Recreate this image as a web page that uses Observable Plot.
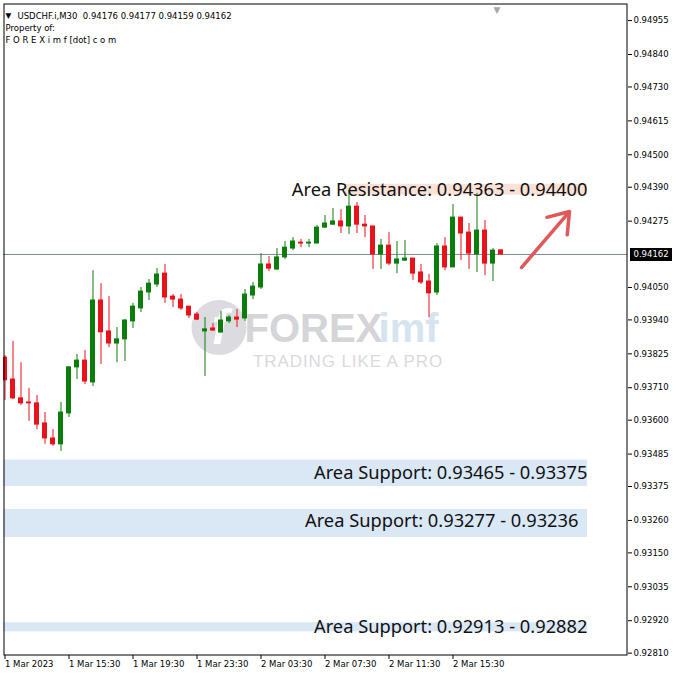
<!DOCTYPE html>
<html><head><meta charset="utf-8">
<script src="https://cdn.jsdelivr.net/npm/d3@7"></script>
<script src="https://cdn.jsdelivr.net/npm/@observablehq/plot@0.6"></script>
<style>body{margin:0;background:#fff} svg{display:block}</style>
</head><body><div id="chart"></div>
<script>
// ---- data (USDCHF.i M30, 1 Mar 2023 11:30 → 2 Mar 2023 18:30) ----
const open = [0.93812,0.93738,0.93674,0.93660,0.93657,0.93589,0.93538,0.93518,0.93623,0.93779,
0.93802,0.93728,0.94006,0.93901,0.93860,0.93874,0.93935,0.93979,0.94033,0.94060,
0.94097,0.94019,0.94009,0.93985,0.93958,0.93901,0.93911,0.93897,0.93935,0.93948,
0.93945,0.94023,0.94050,0.94128,0.94111,0.94152,0.94182,0.94202,0.94199,0.94199,
0.94253,0.94263,0.94274,0.94257,0.94324,0.94263,0.94257,0.94162,0.94192,0.94131,
0.94141,0.94148,0.94101,0.94070,0.94033,0.94189,0.94118,0.94287,0.94236,0.94162,
0.94243,0.94131,0.94176];
const high = [0.93819,0.93867,0.93795,0.93708,0.93684,0.93626,0.93568,0.93660,0.93782,0.93823,
0.93836,0.94107,0.94063,0.94019,0.93914,0.93941,0.93996,0.94050,0.94077,0.94114,
0.94128,0.94026,0.94026,0.93985,0.93965,0.93948,0.93928,0.93969,0.93955,0.93975,
0.94043,0.94067,0.94165,0.94155,0.94182,0.94206,0.94219,0.94213,0.94213,0.94260,
0.94294,0.94318,0.94314,0.94379,0.94338,0.94294,0.94257,0.94213,0.94236,0.94206,
0.94209,0.94148,0.94128,0.94094,0.94199,0.94219,0.94331,0.94287,0.94267,0.94369,
0.94277,0.94182,0.94177];
const low = [0.93667,0.93670,0.93650,0.93596,0.93568,0.93518,0.93511,0.93494,0.93609,0.93738,
0.93721,0.93714,0.93789,0.93846,0.93795,0.93799,0.93911,0.93965,0.94006,0.94050,
0.93996,0.93982,0.93972,0.93945,0.93938,0.93748,0.93901,0.93897,0.93928,0.93914,
0.93935,0.94009,0.94043,0.94104,0.94107,0.94145,0.94175,0.94185,0.94185,0.94199,
0.94250,0.94260,0.94233,0.94230,0.94233,0.94219,0.94111,0.94111,0.94124,0.94097,
0.94138,0.94074,0.94060,0.93948,0.94023,0.94107,0.94118,0.94141,0.94111,0.94101,
0.94090,0.94070,0.94159];
const close = [0.93735,0.93674,0.93657,0.93657,0.93585,0.93538,0.93518,0.93626,0.93779,0.93802,
0.93731,0.94006,0.93898,0.93860,0.93874,0.93938,0.93985,0.94036,0.94063,0.94094,
0.94016,0.94009,0.93979,0.93955,0.93941,0.93908,0.93904,0.93938,0.93948,0.93941,
0.94026,0.94053,0.94128,0.94114,0.94152,0.94185,0.94206,0.94199,0.94202,0.94253,
0.94267,0.94274,0.94257,0.94324,0.94263,0.94257,0.94162,0.94192,0.94131,0.94145,
0.94148,0.94097,0.94067,0.94030,0.94189,0.94118,0.94287,0.94233,0.94165,0.94243,
0.94131,0.94175,0.94162];

const xTickIdx = [0, 8, 16, 24, 32, 40, 48, 56];
const xTickLabels = ["1 Mar 2023","1 Mar 15:30","1 Mar 19:30","1 Mar 23:30","2 Mar 03:30","2 Mar 07:30","2 Mar 11:30","2 Mar 15:30"];
const yTicks = [0.94955,0.94840,0.94730,0.94615,0.94500,0.94390,0.94275,0.94050,0.93940,0.93825,
0.93710,0.93600,0.93485,0.93375,0.93260,0.93150,0.93035,0.92920,0.92810];

const currentPrice = 0.94162;
const headerText = "USDCHF.i,M30\u00a0\u00a00.94176 0.94177 0.94159 0.94162";

const zoneLabels = ["Area Resistance: 0.94363 - 0.94400","Area Support: 0.93465 - 0.93375","Area Support: 0.93277 - 0.93236","Area Support: 0.92913 - 0.92882"];
const zoneKind = ["resistance","support","support","support"];
const zoneTop = [0.94400, 0.93465, 0.93297, 0.92913];
const zoneBottom = [0.94363, 0.93375, 0.93202, 0.92882];
const zoneLabelMid = [0.943815, 0.93420, 0.932565, 0.928975];

// ---- build ----
const G = "#0a7d0a", R = "#e8121a";
const candles = open.map((o, i) => ({i, o, h: high[i], l: low[i], c: close[i], up: close[i] >= o}));
const zones = zoneLabels.map((label, k) => ({
  label, kind: zoneKind[k], top: zoneTop[k], bottom: zoneBottom[k], mid: zoneLabelMid[k],
  x1: zoneKind[k] === "resistance" ? 42.5625 : -0.1875,
  x2: 72.8125,
  xt: k === 2 ? 71.6875 : 72.8125
}));

const chart = Plot.plot({
  width: 676, height: 675,
  marginLeft: 3, marginRight: 49, marginTop: 3, marginBottom: 20,
  style: {background: "#fff", fontFamily: "DejaVu Sans", color: "#000"},
  x: {domain: [-0.1875, 77.8125], axis: null},
  y: {domain: [0.92802, 0.95013], axis: null},
  marks: [
    // zones
    Plot.rect(zones, {x1: "x1", x2: "x2", y1: "bottom", y2: "top",
      fill: d => d.kind === "resistance" ? "#fbe1d6" : "#dae8f6"}),
    // watermark
    Plot.dot([{x: 26.75, y: 0.93914}], {x: "x", y: "y", r: 27.5, fill: "#dcdce0", stroke: "none"}),
    Plot.text([{x: 26.9, y: 0.93914}], {x: "x", y: "y", text: () => "f", fontSize: 50, fontWeight: "bold", fontStyle: "italic", fill: "#fff", fontFamily: "Liberation Sans"}),
    Plot.text([{x: 29.94, y: 0.93907}], {x: "x", y: "y", text: () => "FOREX", textAnchor: "start", fontSize: 40, fontWeight: "bold", fill: "#d4d4d9", fontFamily: "Liberation Sans"}),
    Plot.text([{x: 54.2, y: 0.93907}], {x: "x", y: "y", text: () => "imf", textAnchor: "end", fontSize: 40, fontWeight: "bold", fill: "#d6e4f0", fontFamily: "Liberation Sans"}),
    Plot.text([{x: 31.0, y: 0.93800}], {x: "x", y: "y", text: () => "TRADING LIKE A PRO", textAnchor: "start", fontSize: 17, fill: "#d9d9de", fontFamily: "Liberation Sans"}),
    // current price line
    Plot.ruleY([currentPrice], {stroke: "#7a8a9a", strokeWidth: 1}),
    // candles
    Plot.ruleX(candles, {x: "i", y1: "l", y2: "h", stroke: d => d.up ? G : R, strokeWidth: 1, clip: true}),
    Plot.rect(candles, {x1: d => d.i - 0.3125, x2: d => d.i + 0.3125, y1: "o", y2: "c",
      fill: d => d.up ? G : R, insetTop: -0.5, insetBottom: -0.5, clip: true}),
    // zone labels
    Plot.text(zones, {x: "xt", y: "mid", text: "label", textAnchor: "end", fontSize: 18.3, fill: "#111", fontFamily: "Noto Sans"}),
    // arrow
    Plot.arrow([{x1: 64.5625, y1: 0.941177, x2: 70.5625, y2: 0.943075}], {x1: "x1", y1: "y1", x2: "x2", y2: "y2",
      stroke: "#e05858", strokeWidth: 3.5, headLength: 10, headAngle: 70}),
    // axes
    Plot.axisY({anchor: "right", ticks: yTicks, tickFormat: d3.format(".5f"), tickSize: 4, tickPadding: 2, fontSize: 8.5, label: null}),
    Plot.axisX({anchor: "bottom", ticks: xTickIdx, tickFormat: d => xTickLabels[xTickIdx.indexOf(d)], tickSize: 4, tickPadding: 1, textAnchor: "start", fontSize: 8.5, label: null}),
    Plot.frame({stroke: "#000", inset: 0.5}),
    // current price box
    Plot.ruleY([currentPrice], {x1: 78.1875, x2: 83.4375, stroke: "#000", strokeWidth: 13, clip: false}),
    Plot.text([currentPrice], {x: 78.5625, y: d => d, text: d => d3.format(".5f")(d), textAnchor: "start", fill: "#fff", fontSize: 8.5}),
    // header
    Plot.text(["\u25BC"], {frameAnchor: "top-left", dx: 2, dy: 9, text: d => d, textAnchor: "start", fontSize: 7.5, fill: "#000"}),
    Plot.text([headerText], {frameAnchor: "top-left", dx: 14, dy: 9, text: d => d, textAnchor: "start", fontSize: 8.5, fill: "#000"}),
    Plot.text(["Property of:"], {frameAnchor: "top-left", dx: 2, dy: 21, text: d => d, textAnchor: "start", fontSize: 8.5, fill: "#000"}),
    Plot.text(["F O R E X i m f [dot] c o m"], {frameAnchor: "top-left", dx: 2, dy: 33, text: d => d, textAnchor: "start", fontSize: 8.5, fill: "#000"}),
    // chart-shift marker
    Plot.text(["\u25BC"], {x: () => 61.5, frameAnchor: "top", dy: 3, text: d => d, fontSize: 9, fill: "#a8a8a8"})
  ]
});
d3.select(chart).selectAll("text").filter(function() { return this.textContent === "TRADING LIKE A PRO"; })
  .attr("letter-spacing", "0.9px");
document.getElementById("chart").append(chart);
</script></body></html>
